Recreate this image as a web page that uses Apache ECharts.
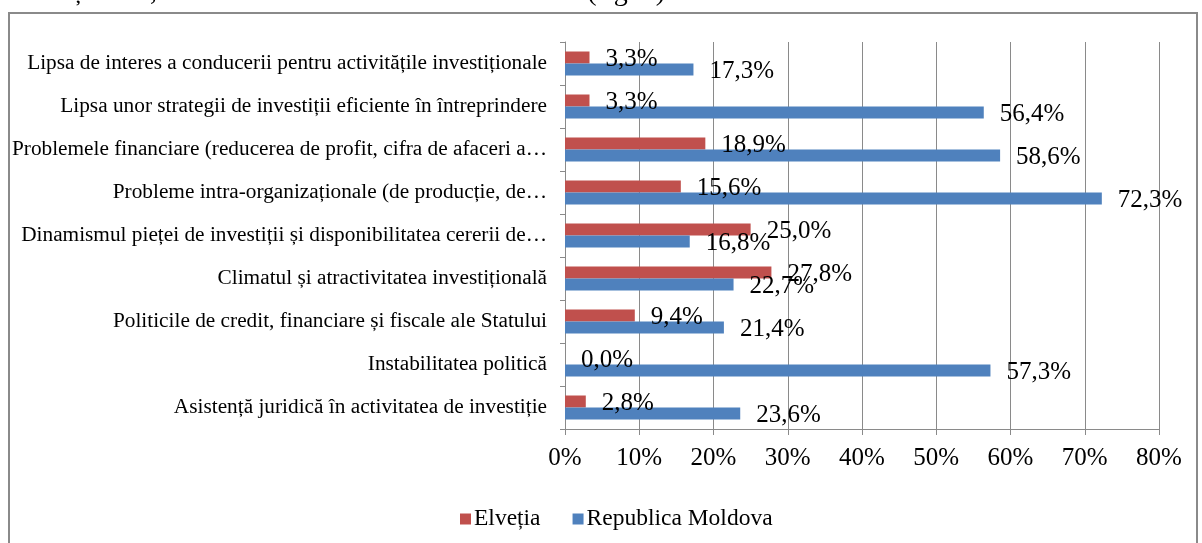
<!DOCTYPE html>
<html>
<head>
<meta charset="utf-8">
<script src="https://cdn.jsdelivr.net/npm/echarts@6/dist/echarts.min.js"></script>
<style>
html,body{margin:0;padding:0;background:#fff;}
#chart{width:1202px;height:543px;}
</style>
</head>
<body>
<div id="chart"></div>
<script>
// Categories, bottom to top (as drawn on the vertical category axis)
var categories = [
  "Asistență juridică în activitatea de investiție",
  "Instabilitatea politică",
  "Politicile de credit, financiare și fiscale ale Statului",
  "Climatul și atractivitatea investițională",
  "Dinamismul pieței de investiții și disponibilitatea cererii de…",
  "Probleme intra-organizaționale (de producție, de…",
  "Problemele financiare (reducerea de profit, cifra de afaceri a…",
  "Lipsa unor strategii de investiții eficiente în întreprindere",
  "Lipsa de interes a conducerii pentru activitățile investiționale"
];
var elvetia = [2.8, 0.0, 9.4, 27.8, 25.0, 15.6, 18.9, 3.3, 3.3];
var moldova = [23.6, 57.3, 21.4, 22.7, 16.8, 72.3, 58.6, 56.4, 17.3];
var seriesNames = ["Elveția", "Republica Moldova"];
var xTicks = [0, 10, 20, 30, 40, 50, 60, 70, 80];
var headerText = "investiționale, într-o măsură mai mare sau mai mică (fig. 5).";

var FONT = "'Liberation Serif', 'Times New Roman', serif";
function fmt(v) { return v.toFixed(1).replace('.', ',') + '%'; }

var chart = echarts.init(document.getElementById('chart'), null, {renderer: 'canvas'});
var labelCfg = {
  show: true,
  position: 'right',
  distance: 16,
  color: '#000',
  fontFamily: FONT,
  fontSize: 25,
  offset: [0, 2],
  formatter: function (p) { return fmt(p.value); }
};
chart.setOption({
  animation: false,
  backgroundColor: '#fff',
  graphic: [
    {type: 'rect', shape: {x: 9, y: 13, width: 1188, height: 560},
     style: {fill: 'none', stroke: '#8a8a8a', lineWidth: 2}, silent: true},
    {type: 'text', right: 530, top: -21,
     style: {text: headerText, fontFamily: FONT, fontSize: 28, fill: '#000'}, silent: true}
  ],
  legend: {
    data: seriesNames,
    left: 455,
    top: 502,
    icon: 'rect',
    itemWidth: 11,
    itemHeight: 11,
    itemGap: 32,
    textStyle: {fontFamily: FONT, fontSize: 23.5, color: '#000', padding: [0, 0, 0, -2]}
  },
  grid: {left: 565, right: 43, top: 42, bottom: 114},
  xAxis: {
    type: 'value',
    min: xTicks[0],
    max: xTicks[xTicks.length - 1],
    interval: 10,
    axisLine: {show: true, lineStyle: {color: '#8a8a8a', width: 1}},
    axisTick: {show: true, length: 6, lineStyle: {color: '#8a8a8a'}},
    splitLine: {show: true, lineStyle: {color: '#8a8a8a', width: 1}},
    axisLabel: {
      color: '#000', fontFamily: FONT, fontSize: 25, margin: 17,
      formatter: function (v) { return v + '%'; }
    }
  },
  yAxis: {
    type: 'category',
    data: categories,
    axisLine: {show: true, lineStyle: {color: '#8a8a8a', width: 1}},
    axisTick: {show: true, length: 5, lineStyle: {color: '#8a8a8a'}},
    axisLabel: {color: '#000', fontFamily: FONT, fontSize: 21.3, margin: 18}
  },
  series: [
    {name: seriesNames[0], type: 'bar', data: elvetia, barWidth: 12, barGap: '0%',
     itemStyle: {color: '#C0504D'}, label: labelCfg},
    {name: seriesNames[1], type: 'bar', data: moldova, barWidth: 12, barGap: '0%',
     itemStyle: {color: '#4F81BD'}, label: labelCfg}
  ]
});
</script>
</body>
</html>
